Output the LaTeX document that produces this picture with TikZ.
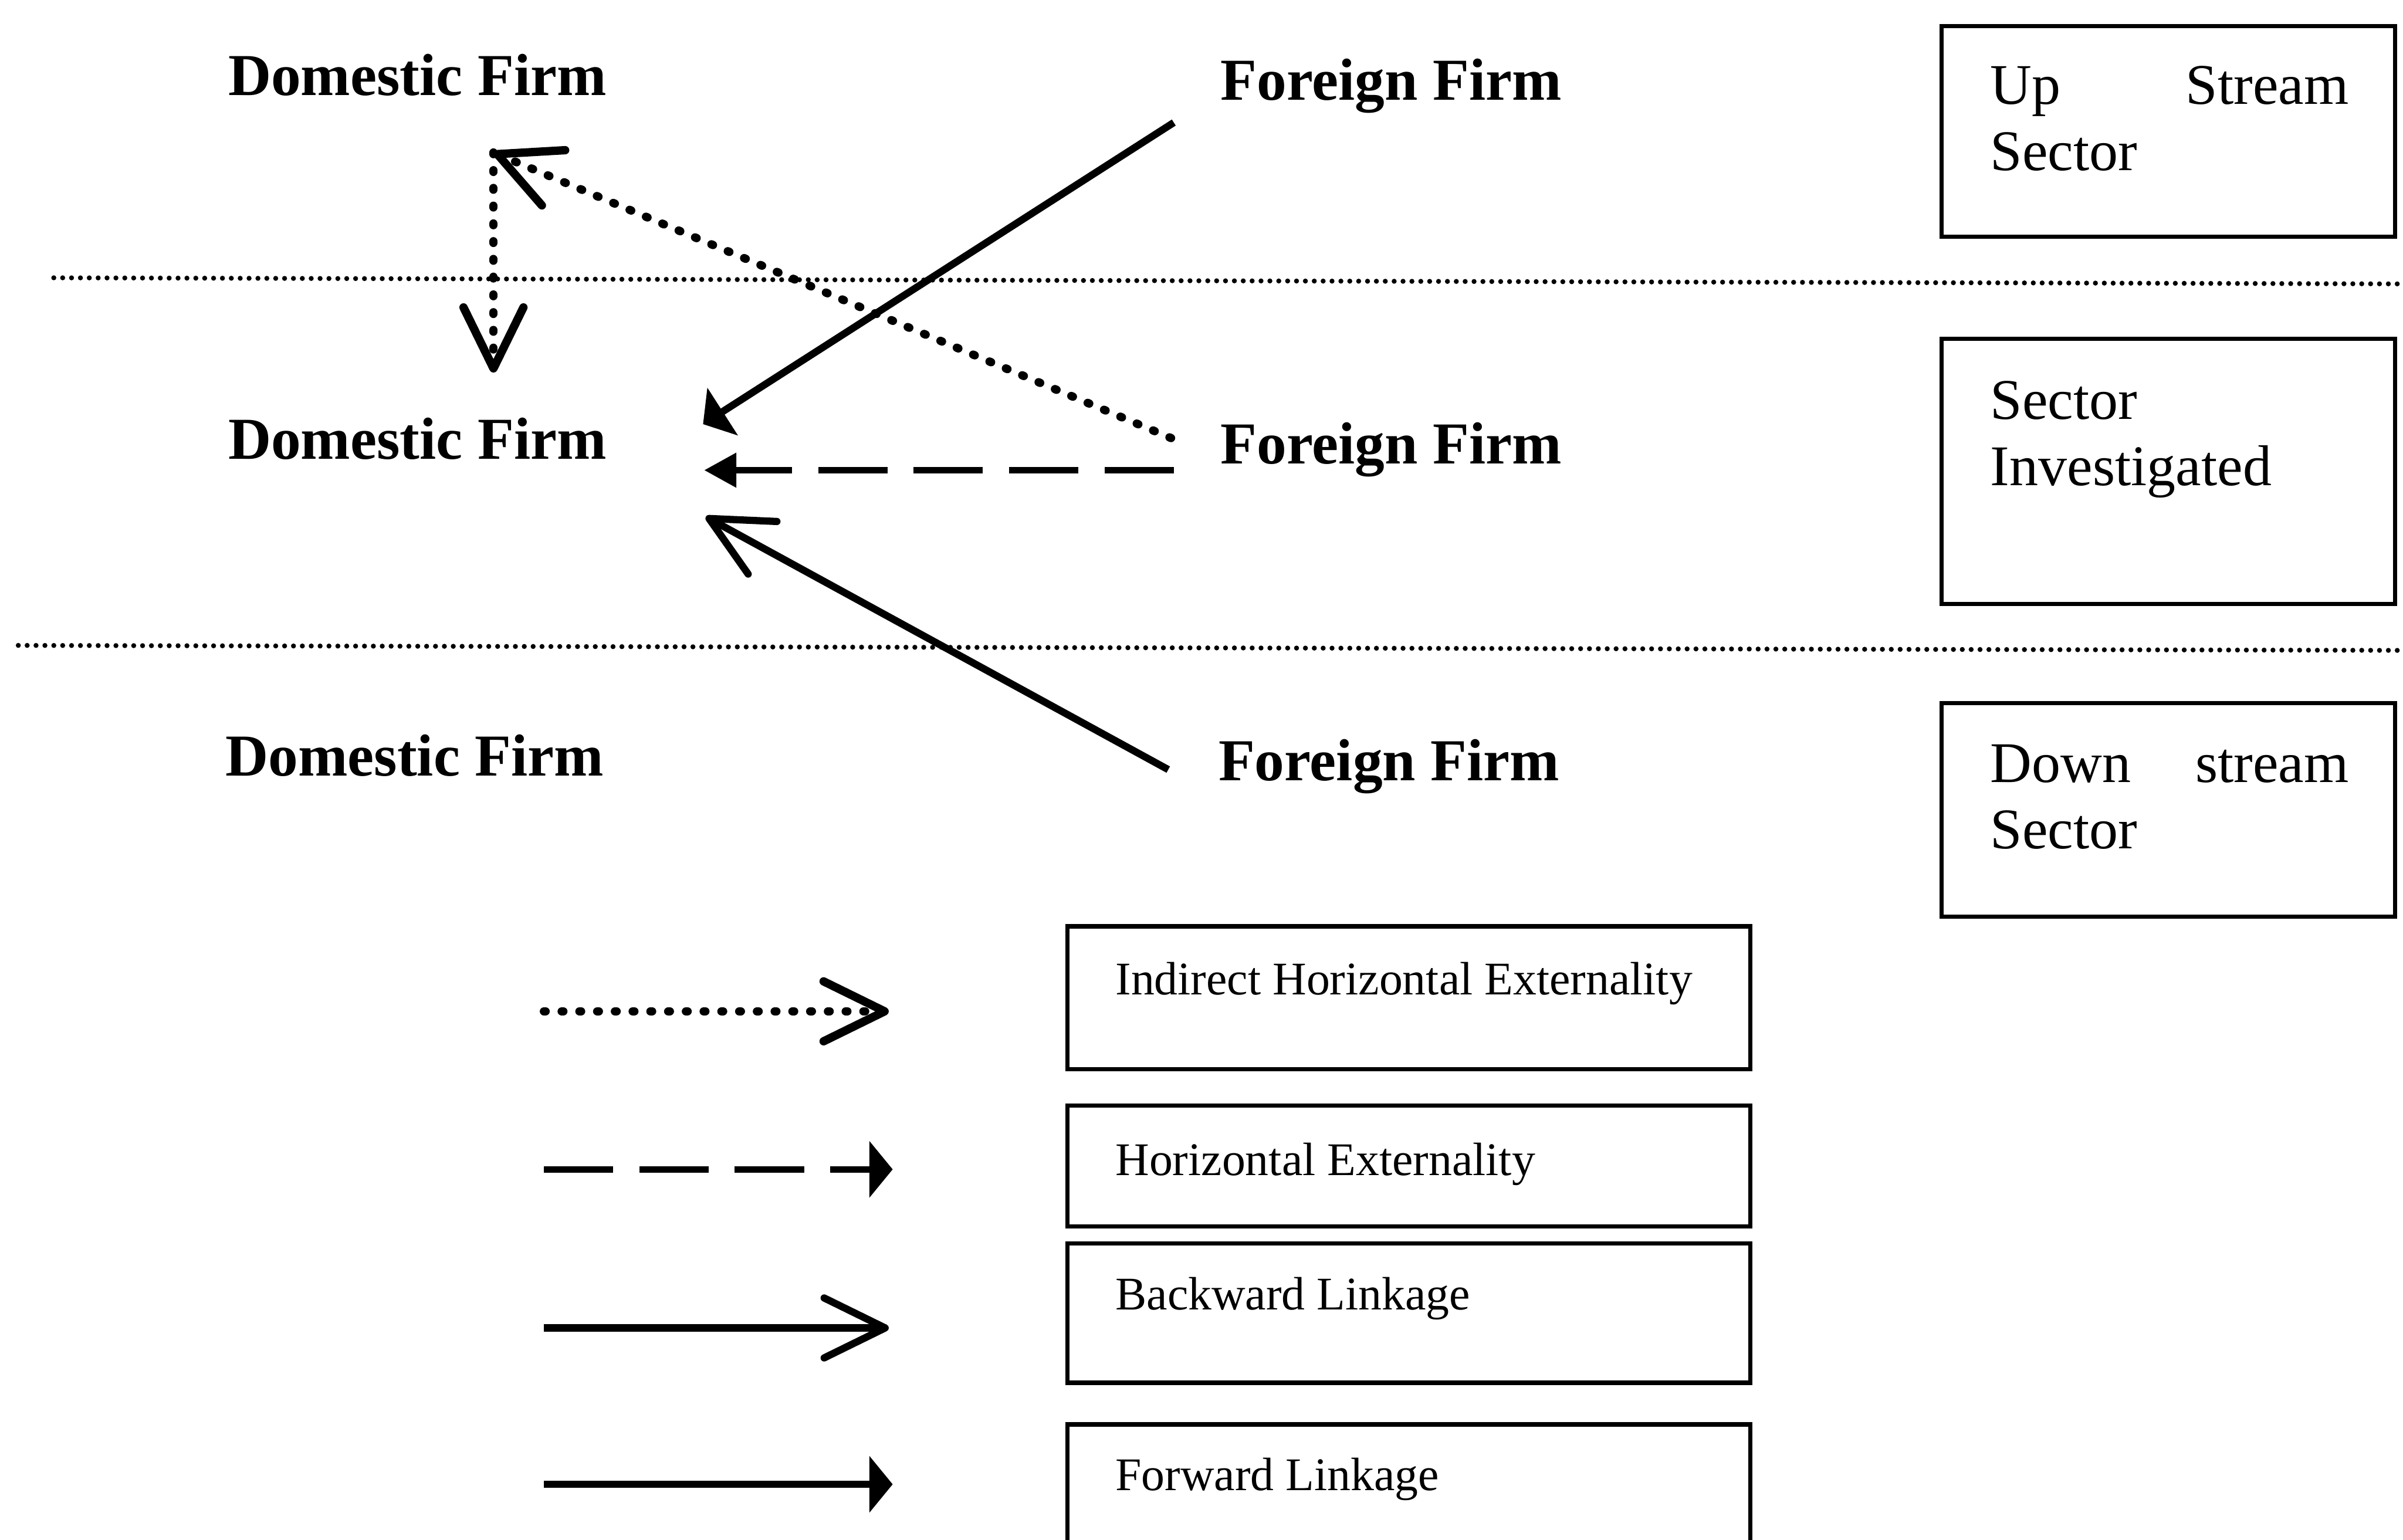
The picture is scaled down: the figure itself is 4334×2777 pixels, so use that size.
\documentclass[tikz,border=0pt]{standalone}
\usepackage{fontspec}
\setmainfont{Liberation Serif}
\usetikzlibrary{arrows.meta,calc}
\newcommand\boxcontent[6]{\parbox[t][#1][t]{#2}{\vspace*{#3}\noindent\hspace*{#4}\parbox[t]{#5}{#6}}}
\begin{document}
\begin{tikzpicture}[x=0.01cm, y=-0.01cm,
  firm/.style={anchor=base west, inner sep=0pt, font=\fontsize{30.5pt}{36pt}\selectfont\bfseries},
  secbox/.style={draw, line width=2.2pt, anchor=north west, inner sep=0pt, font=\fontsize{29.5pt}{34.1pt}\selectfont},
  legbox/.style={draw, line width=2.2pt, anchor=north west, inner sep=0pt, font=\fontsize{24pt}{28pt}\selectfont},
  sepline/.style={line width=0.09cm, line cap=round, dash pattern=on 0pt off 0.16cm},
  solidlink/.style={line width=0.13cm},
  dotlink/.style={line width=0.15cm, line cap=round, dash pattern=on 0.03cm off 0.29cm},
  dashlink/.style={line width=0.12cm, dash pattern=on 1.25cm off 0.47cm},
  veehead/.style={-{Straight Barb[length=1.1cm, width=1.08cm, round]}},
  fillhead/.style={-{Triangle[length=0.42cm, width=1.0cm]}},
  smallhead/.style={-{Triangle[length=0.58cm, width=0.6cm]}}
]
\useasboundingbox (0,0) rectangle (4334,2777);
\clip (0,0) rectangle (4334,2777);

% firm labels
\node[firm] (dom1) at (411,172) {Domestic Firm};
\node[firm] (dom2) at (411,828) {Domestic Firm};
\node[firm] (dom3) at (406,1399) {Domestic Firm};
\node[firm] (for1) at (2201,180) {Foreign Firm};
\node[firm] (for2) at (2201,836) {Foreign Firm};
\node[firm] (for3) at (2197,1408) {Foreign Firm};

% sector boxes
\node[secbox] (up) at (3498,43) {\boxcontent{3.80cm}{8.17cm}{0.72cm}{0.88cm}{6.46cm}{Up\hfill Stream\\Sector}};
\node[secbox] (inv) at (3498,607) {\boxcontent{4.78cm}{8.17cm}{0.76cm}{0.88cm}{6.46cm}{Sector\\Investigated}};
\node[secbox] (down) at (3498,1264) {\boxcontent{3.85cm}{8.17cm}{0.75cm}{0.88cm}{6.46cm}{Down\hfill stream\\Sector}};

% separators
\coordinate (s1a) at (97,501);
\coordinate (s1b) at (4334,512);
\coordinate (s2a) at (33,1164);
\coordinate (s2b) at (4334,1173);
\draw[sepline] (s1a) -- (s1b);
\draw[sepline] (s2a) -- (s2b);

% connector end points
\coordinate (f1out) at ($(for1.base west)+(-84,41)$);
\coordinate (d2a) at ($(dom2.base west)+(857,-63)$);
\coordinate (f2outA) at ($(for2.base west)+(-89,-46)$);
\coordinate (corner) at ($(dom1.base west)+(479,103)$);
\coordinate (d2top) at ($(dom2.base west)+(479,-156)$);
\coordinate (f2outB) at ($(for2.base west)+(-84,12)$);
\coordinate (d2b) at ($(dom2.base west)+(859,20)$);
\coordinate (f3out) at ($(for3.base west)+(-90,-20)$);
\coordinate (d2c) at ($(dom2.base west)+(862,104)$);

\draw[solidlink, fillhead] (f1out) -- (d2a);
\draw[dotlink, veehead] (f2outA) -- (corner);
\draw[dotlink, veehead] (corner) -- (d2top);
\draw[dashlink, smallhead] (f2outB) -- (d2b);
\draw[solidlink, veehead] (f3out) -- (d2c);

% legend
\coordinate (l1a) at (981,1824); \coordinate (l1b) at (1603,1824);
\coordinate (l2a) at (981,2109); \coordinate (l2b) at (1610,2109);
\coordinate (l3a) at (981,2395); \coordinate (l3b) at (1603,2395);
\coordinate (l4a) at (981,2677); \coordinate (l4b) at (1610,2677);
\draw[dotlink, veehead] (l1a) -- (l1b);
\draw[dashlink, fillhead] (l2a) -- (l2b);
\draw[solidlink, veehead] (l3a) -- (l3b);
\draw[solidlink, fillhead] (l4a) -- (l4b);

\node[legbox] (lgA) at (1921,1667) {\boxcontent{2.57cm}{12.31cm}{0.64cm}{0.87cm}{11cm}{Indirect Horizontal Externality}};
\node[legbox] (lgB) at (1921,1990) {\boxcontent{2.18cm}{12.31cm}{0.67cm}{0.87cm}{11cm}{Horizontal Externality}};
\node[legbox] (lgC) at (1921,2239) {\boxcontent{2.51cm}{12.31cm}{0.61cm}{0.87cm}{11cm}{Backward Linkage}};
\node[legbox] (lgD) at (1921,2565) {\boxcontent{2.60cm}{12.31cm}{0.61cm}{0.87cm}{11cm}{Forward Linkage}};
\end{tikzpicture}
\end{document}
